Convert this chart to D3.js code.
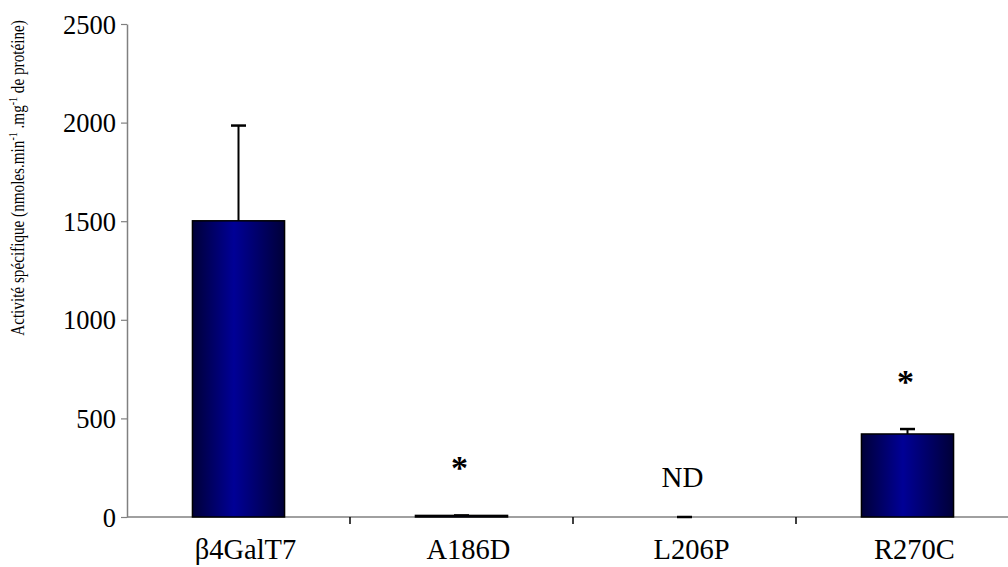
<!DOCTYPE html>
<html>
<head>
<meta charset="utf-8">
<script src="https://cdn.jsdelivr.net/npm/d3@7"></script>
<style>
  body { margin: 0; background: #fff; }
  text { font-family: "Liberation Serif", "Times New Roman", serif; }
</style>
</head>
<body>
<div id="chart"></div>
<script>
// data
var categories = ["β4GalT7", "A186D", "L206P", "R270C"];
var values = [1502, 8, 0, 421];
var errors = [483, 0, 0, 25];
var marks = ["", "*", "ND", "*"];
var yTicks = [0, 500, 1000, 1500, 2000, 2500];

var width = 1008, height = 567;
var margin = {top: 24, left: 127, bottom: 50};

var svg = d3.select("#chart").append("svg")
    .attr("width", width)
    .attr("height", height);

var x = d3.scaleBand()
    .domain(categories)
    .range([margin.left, margin.left + 892])
    .paddingInner(0.587)
    .paddingOuter(0.2935);

var y = d3.scaleLinear()
    .domain([0, 2500])
    .range([height - margin.bottom, margin.top]);

var grad = svg.append("defs").append("linearGradient")
    .attr("id", "barGrad")
    .attr("x1", "0%").attr("x2", "100%")
    .attr("y1", "0%").attr("y2", "0%");
grad.append("stop").attr("offset", "0%").attr("stop-color", "#000038");
grad.append("stop").attr("offset", "45%").attr("stop-color", "#000096");
grad.append("stop").attr("offset", "100%").attr("stop-color", "#000038");

var data = categories.map(function (c, i) {
    return {name: c, value: values[i], err: errors[i], mark: marks[i]};
});

// y axis
var yAxis = svg.append("g")
    .attr("transform", "translate(" + margin.left + ",0)")
    .call(d3.axisLeft(y).tickValues(yTicks).tickFormat(d3.format("d"))
        .tickSize(6).tickPadding(5).tickSizeOuter(0));
yAxis.select(".domain").attr("stroke", "#808080").attr("stroke-width", 1.5);
yAxis.selectAll(".tick line").attr("stroke", "#808080").attr("stroke-width", 1.2);
yAxis.selectAll(".tick text")
    .attr("fill", "#000")
    .style("font-size", "26.5px")
    .attr("dy", "0.34em");

// x axis line across the plot
svg.append("line")
    .attr("x1", margin.left)
    .attr("x2", width)
    .attr("y1", y(0))
    .attr("y2", y(0))
    .attr("stroke", "#808080")
    .attr("stroke-width", 1.5);

// tick marks between categories
var step = x.step();
var bounds = categories.slice(1).map(function (c) {
    return x(c) - x.paddingInner() * step / 2;
});
svg.selectAll(".xtick")
    .data(bounds)
    .enter().append("line")
    .attr("class", "xtick")
    .attr("x1", function (d) { return d; })
    .attr("x2", function (d) { return d; })
    .attr("y1", y(0))
    .attr("y2", y(0) + 7)
    .attr("stroke", "#000")
    .attr("stroke-width", 1.5);

// category labels
svg.selectAll(".xlabel")
    .data(data)
    .enter().append("text")
    .attr("class", "xlabel")
    .attr("x", function (d) { return x(d.name) + x.bandwidth() / 2 + 7; })
    .attr("y", y(0) + 42)
    .attr("text-anchor", "middle")
    .style("font-size", "28.5px")
    .text(function (d) { return d.name; });

// error bars
var capW = 15;
var eb = svg.selectAll(".err")
    .data(data)
    .enter().append("g")
    .attr("class", "err");
eb.append("line")
    .attr("x1", function (d) { return x(d.name) + x.bandwidth() / 2; })
    .attr("x2", function (d) { return x(d.name) + x.bandwidth() / 2; })
    .attr("y1", function (d) { return y(d.value); })
    .attr("y2", function (d) { return y(d.value + d.err); })
    .attr("stroke", "#000")
    .attr("stroke-width", 2);
eb.append("line")
    .attr("x1", function (d) { return x(d.name) + x.bandwidth() / 2 - capW / 2; })
    .attr("x2", function (d) { return x(d.name) + x.bandwidth() / 2 + capW / 2; })
    .attr("y1", function (d) { return y(d.value + d.err); })
    .attr("y2", function (d) { return y(d.value + d.err); })
    .attr("stroke", "#000")
    .attr("stroke-width", 2.5);

// bars
svg.selectAll(".bar")
    .data(data.filter(function (d) { return d.value > 0; }))
    .enter().append("rect")
    .attr("class", "bar")
    .attr("x", function (d) { return x(d.name); })
    .attr("y", function (d) { return y(d.value); })
    .attr("width", x.bandwidth())
    .attr("height", function (d) { return y(0) - y(d.value); })
    .attr("fill", "url(#barGrad)")
    .attr("stroke", "#000")
    .attr("stroke-width", 1.5);

// significance marks
svg.selectAll(".mark")
    .data(data.filter(function (d) { return d.mark !== ""; }))
    .enter().append("text")
    .attr("class", "mark")
    .attr("x", function (d) { return x(d.name) + x.bandwidth() / 2 - 2; })
    .attr("y", function (d) {
        return d.mark === "*" ? y(d.value + d.err) - 36 : y(0) - 30;
    })
    .attr("text-anchor", "middle")
    .style("font-weight", function (d) { return d.mark === "*" ? "bold" : "normal"; })
    .style("font-size", function (d) { return d.mark === "*" ? "34px" : "29px"; })
    .text(function (d) { return d.mark; });

// y axis title (glyphs look slightly stretched across the line in the original)
var title = svg.append("text")
    .attr("transform", "translate(24,178) scale(1.25,1) rotate(-90)")
    .attr("text-anchor", "middle")
    .style("font-size", "15.2px");
title.append("tspan").text("Activité spécifique (nmoles.min");
title.append("tspan").attr("baseline-shift", "super").style("font-size", "10px").text("-1");
title.append("tspan").text(" .mg");
title.append("tspan").attr("baseline-shift", "super").style("font-size", "10px").text("-1");
title.append("tspan").text(" de protéine)");
</script>
</body>
</html>
